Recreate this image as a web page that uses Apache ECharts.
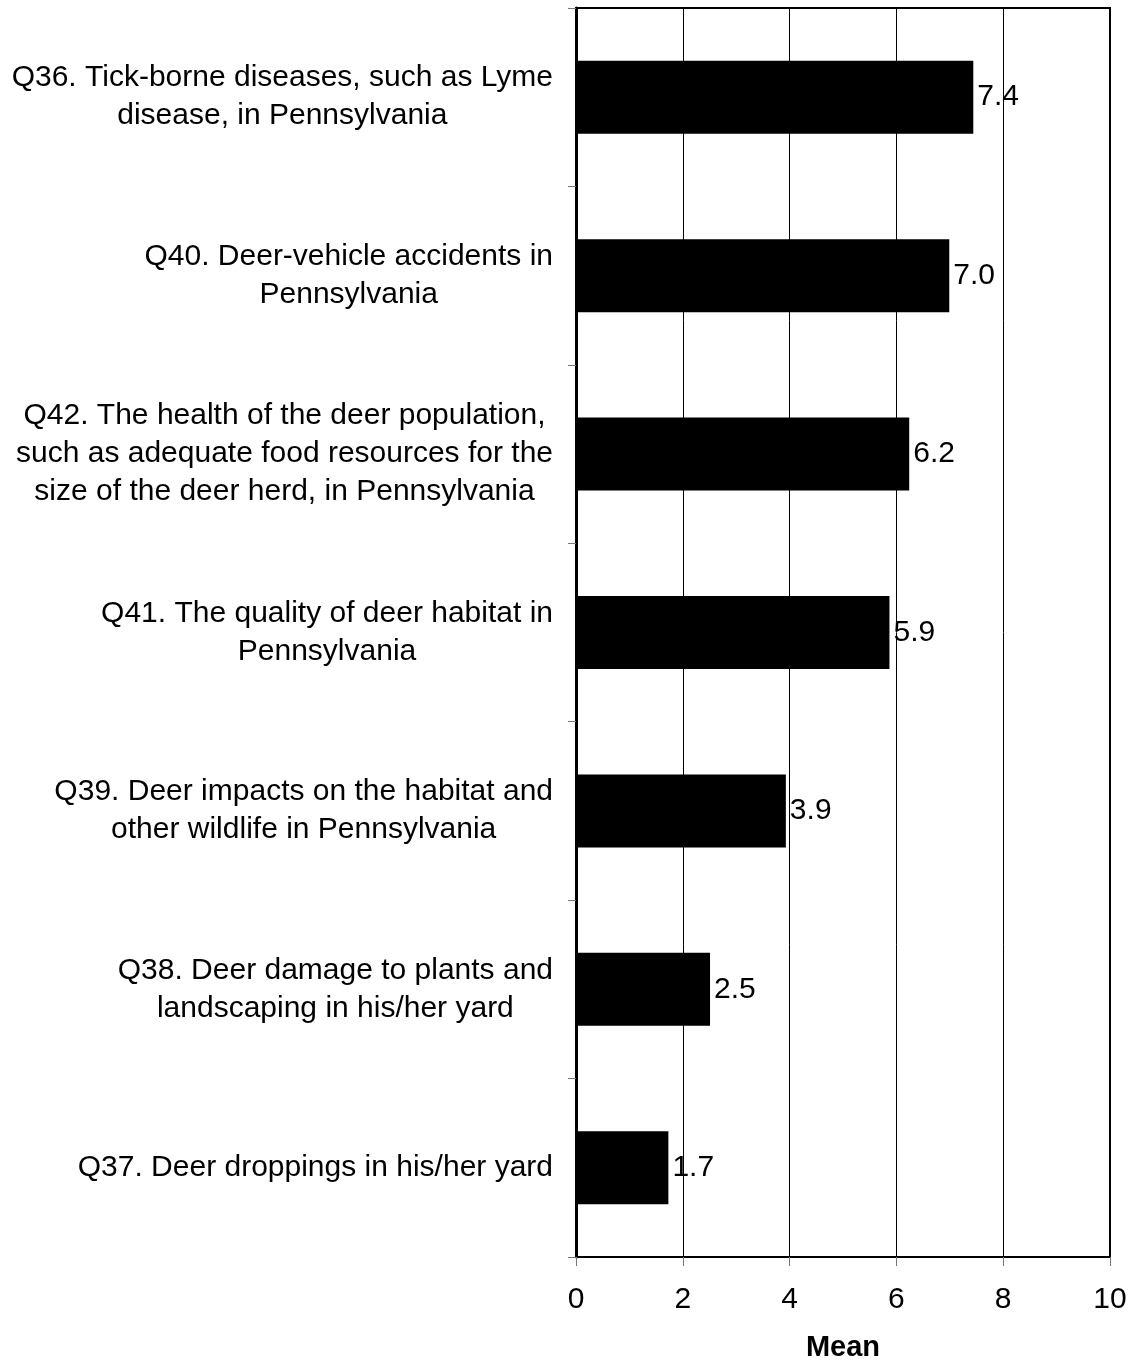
<!DOCTYPE html>
<html>
<head>
<meta charset="utf-8">
<script src="https://cdn.jsdelivr.net/npm/echarts@6/dist/echarts.min.js"></script>
<style>
html,body{margin:0;padding:0;background:#fff;}
#chart{width:1131px;height:1367px;}
</style>
</head>
<body>
<div id="chart"></div>
<script>
const categories = [
  "Q36. Tick-borne diseases, such as Lyme\ndisease, in Pennsylvania",
  "Q40. Deer-vehicle accidents in\nPennsylvania",
  "Q42. The health of the deer population,\nsuch as adequate food resources for the\nsize of the deer herd, in Pennsylvania",
  "Q41. The quality of deer habitat in\nPennsylvania",
  "Q39. Deer impacts on the habitat and\nother wildlife in Pennsylvania",
  "Q38. Deer damage to plants and\nlandscaping in his/her yard",
  "Q37. Deer droppings in his/her yard"
];
const meanValues = [7.44, 6.99, 6.24, 5.87, 3.93, 2.51, 1.73];
const xTicks = [0, 2, 4, 6, 8, 10];

const FONT = "'Liberation Sans', Arial, sans-serif";
const chart = echarts.init(document.getElementById('chart'));
chart.setOption({
  animation: false,
  backgroundColor: '#fff',
  grid: {
    left: 576, right: 21, top: 8, bottom: 105,
    show: true, borderColor: '#000', borderWidth: 2, containLabel: false
  },
  xAxis: {
    type: 'value',
    min: xTicks[0], max: xTicks[xTicks.length - 1], interval: 2,
    name: 'Mean',
    nameLocation: 'middle',
    nameGap: 76,
    nameTextStyle: { fontFamily: FONT, fontSize: 29, fontWeight: 'bold', color: '#000' },
    axisLine: { show: true, lineStyle: { color: '#000', width: 2 } },
    axisTick: { show: true, length: 9, lineStyle: { color: '#777', width: 1 } },
    axisLabel: { fontFamily: FONT, fontSize: 30, color: '#000', margin: 28 },
    splitLine: { show: true, lineStyle: { color: '#000', width: 1 } }
  },
  yAxis: {
    type: 'category',
    inverse: true,
    data: categories,
    axisLine: { show: true, lineStyle: { color: '#000', width: 3 } },
    axisTick: { show: true, length: 8, alignWithLabel: false, lineStyle: { color: '#777', width: 1 } },
    axisLabel: {
      align: 'right',
      margin: 23,
      color: '#000',
      fontFamily: FONT,
      fontSize: 30,
      lineHeight: 38,
      formatter: function (v) {
        return v.split('\n').map(function (s) { return '{c|' + s + '}'; }).join('\n');
      },
      rich: {
        c: { align: 'center', fontFamily: FONT, fontSize: 30, lineHeight: 38, color: '#000' }
      }
    },
    splitLine: { show: false }
  },
  series: [{
    type: 'bar',
    data: meanValues,
    barWidth: 73,
    itemStyle: { color: '#000' },
    label: {
      show: true,
      position: 'right',
      distance: 4,
      fontFamily: FONT,
      fontSize: 30,
      color: '#000',
      formatter: function (p) { return p.value.toFixed(1); }
    }
  }]
});
</script>
</body>
</html>
